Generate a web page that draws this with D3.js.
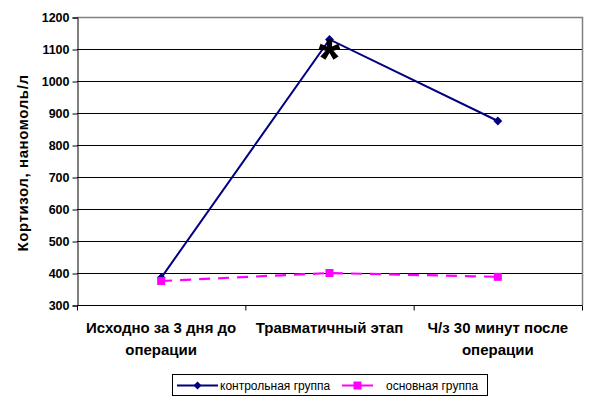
<!DOCTYPE html>
<html><head><meta charset="utf-8">
<script src="https://cdn.jsdelivr.net/npm/d3@7"></script>
<style>body{margin:0;background:#fff}</style>
</head><body>
<svg id="c" width="604" height="414"></svg>
<script>
const categories = [["Исходно за 3 дня до","операции"],["Травматичный этап"],["Ч/з 30 минут после","операции"]];
const controlGroup = [385, 1130, 875];
const mainGroup = [375, 400, 388];
const yTicks = [300,400,500,600,700,800,900,1000,1100,1200];
const seriesNames = ["контрольная группа","основная группа"];
const yTitle = "Кортизол, наномоль/л";

const svg = d3.select("#c");
const L = 77, R = 582, T = 17, B = 305;
const x = d3.scaleBand().domain(d3.range(categories.length)).range([L, R]);
const y = d3.scaleLinear().domain([300, 1200]).range([B, T]);
const font = "Arial, 'Liberation Sans', sans-serif";

// gridlines
svg.append("g").selectAll("line").data(yTicks.filter(d => d > 300 && d < 1200)).join("line")
  .attr("x1", L).attr("x2", R).attr("y1", d => y(d)+0.5).attr("y2", d => y(d)+0.5)
  .attr("stroke", "#000").attr("stroke-width", 1);
// plot border top/right gray
svg.append("path").attr("d", `M${L},${T+0.5}H${R+0.5}V${B}`).attr("fill","none").attr("stroke","#808080").attr("stroke-width",1.5);

// y axis
const yAxis = svg.append("g").attr("transform", `translate(${L+0.5},0.5)`)
  .call(d3.axisLeft(y).tickValues(yTicks).tickFormat(d3.format("d")).tickSize(5).tickPadding(3));
yAxis.select(".domain").attr("stroke","#000");
yAxis.selectAll("text").attr("font-family", font).attr("font-size", 12.5).attr("font-weight","bold").attr("fill","#000");

// x axis
const xAxisG = svg.append("g").attr("transform", `translate(0,${B+0.5})`);
xAxisG.append("line").attr("x1", L).attr("x2", R+0.5).attr("stroke", "#000");
xAxisG.selectAll("line.t").data(d3.range(categories.length+1)).join("line").attr("class","t")
  .attr("x1", i => (i < categories.length ? x(i) : R) + 0.5).attr("x2", i => (i < categories.length ? x(i) : R) + 0.5)
  .attr("y1", 0).attr("y2", 5).attr("stroke", "#000");
const xl = svg.append("g").selectAll("text").data(categories).join("text")
  .attr("x", (d,i) => x(i) + x.bandwidth()/2).attr("y", 333)
  .attr("text-anchor","middle").attr("font-family", font).attr("font-size", 15).attr("font-weight","bold").attr("fill","#000");
xl.each(function(d){
  const t = d3.select(this);
  d.forEach((s,j) => t.append("tspan").attr("x", t.attr("x")).attr("dy", j ? 22 : 0).text(s));
});

// y title
svg.append("text").attr("transform", `translate(28,${(T+B)/2 + 2}) rotate(-90)`)
  .attr("text-anchor","middle").attr("font-family", font).attr("font-size", 15).attr("letter-spacing", 0.6).attr("font-weight","bold").text(yTitle);

const cx = i => x(i) + x.bandwidth()/2;
const line = d3.line().x((d,i) => cx(i)).y(d => y(d));

// control
svg.append("path").attr("d", line(controlGroup)).attr("fill","none").attr("stroke","#000080").attr("stroke-width",2);
svg.append("g").selectAll("path").data(controlGroup).join("path")
  .attr("d", d3.symbol(d3.symbolDiamond2, 50)).attr("transform",(d,i)=>`translate(${cx(i)},${y(d)})`).attr("fill","#000080");

// main
svg.append("path").attr("d", line(mainGroup)).attr("fill","none").attr("stroke","#FF00FF").attr("stroke-width",2.2).attr("stroke-dasharray","11,8");
svg.append("g").selectAll("rect").data(mainGroup).join("rect")
  .attr("x",(d,i)=>cx(i)-4).attr("y", d=>y(d)-4).attr("width",8).attr("height",8).attr("fill","#FF00FF");

// asterisk
svg.append("text").attr("x", cx(1)).attr("y", 77).attr("text-anchor","middle")
  .attr("font-family", font).attr("font-size", 56).attr("font-weight","bold").text("*");

// legend
const lg = svg.append("g");
lg.append("rect").attr("x",172.5).attr("y",374.5).attr("width",315).attr("height",21).attr("fill","#fff").attr("stroke","#000");
const items = [{c:"#000080", sym:"d", x:177, w:41, tx:220}, {c:"#FF00FF", sym:"s", x:342, w:31, tx:386}];
items.forEach((it, k) => {
  const yy = 385.5;
  lg.append("line").attr("x1", it.x).attr("x2", it.x+it.w).attr("y1", yy).attr("y2", yy).attr("stroke", it.c).attr("stroke-width",2);
  if (it.sym === "d") lg.append("path").attr("d", d3.symbol(d3.symbolDiamond2, 40)).attr("transform",`translate(${it.x+it.w/2},${yy})`).attr("fill",it.c);
  else lg.append("rect").attr("x", it.x+it.w/2-4).attr("y", yy-4).attr("width",8).attr("height",8).attr("fill",it.c);
  lg.append("text").attr("x", it.tx).attr("y", yy+4).attr("font-family", font).attr("font-size", 12).text(seriesNames[k]);
});
</script>
</body></html>
